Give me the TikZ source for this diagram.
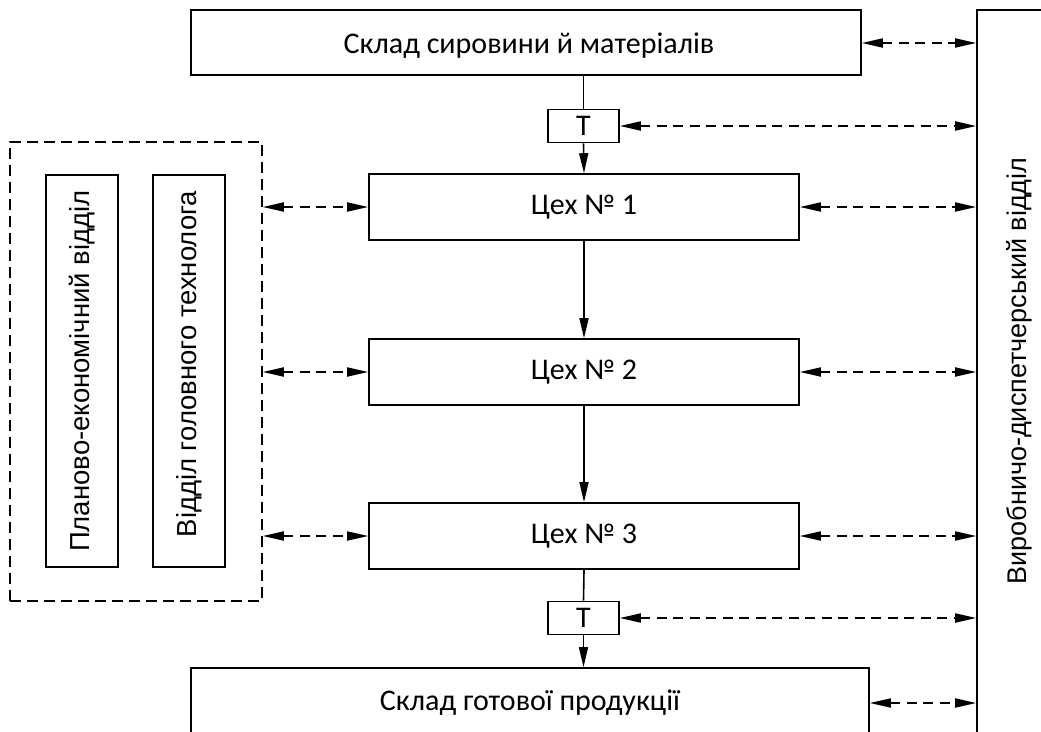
\documentclass[tikz,border=0pt]{standalone}
\usepackage{fontspec}
\setmainfont{Carlito}
\newfontfamily\arialf{Liberation Sans}
\usetikzlibrary{arrows.meta}
\begin{document}
\begin{tikzpicture}[x=1pt,y=-1pt,
  box/.style={draw,line width=1.6pt,inner sep=0pt,font=\fontsize{30}{34}\selectfont},
  vbox/.style={draw,line width=1.6pt,inner sep=0pt},
  vtext/.style={rotate=90,font=\arialf\fontsize{27.5}{30}\selectfont},
  flow/.style={line width=1.6pt,-{Triangle[length=20pt,width=9pt]}},
  plain/.style={line width=1.6pt},
  link/.style={line width=1.8pt,dash pattern=on 10pt off 6.5pt,{Triangle[length=21pt,width=9pt]}-{Triangle[length=21pt,width=9pt]}},
  group/.style={draw,line width=1.5pt,dash pattern=on 11pt off 6pt}]
\useasboundingbox (0,0) rectangle (1041,731);
\fill[white] (0,0) rectangle (1041,731);
% boxes
\node[box,minimum width=670pt,minimum height=65pt] (top) at (526,42.5) {};
\node[font=\fontsize{30}{34}\selectfont] (toptext) at (529,46) {Склад сировини й матеріалів};
\node[box,minimum width=71pt,minimum height=33pt] (t1) at (583.5,126) {Т};
\node[box,minimum width=430pt,minimum height=66pt] (c1) at (584,207) {Цех № 1};
\node[box,minimum width=430pt,minimum height=66pt] (c2) at (584,372) {Цех № 2};
\node[box,minimum width=430pt,minimum height=66pt] (c3) at (584,536) {Цех № 3};
\node[box,minimum width=71pt,minimum height=33pt] (t2) at (583.5,618) {Т};
\node[box,minimum width=678pt,minimum height=120pt] (bot) at (530,728) {};
\node[font=\fontsize{30}{34}\selectfont] (bottext) at (530,703) {Склад готової продукції};
% dispatch
\node[vbox,minimum width=120pt,minimum height=780pt] (disp) at (1037,400) {};
\node[vtext,font=\arialf\fontsize{27}{30}\selectfont] (disptext) at (1019,371) {Виробничо-диспетчерський відділ};
% left group
\node[group,minimum width=252pt,minimum height=459pt,inner sep=0pt] (grp) at (136,371.5) {};
\node[vbox,minimum width=72pt,minimum height=392pt] (plan) at (82,371) {};
\node[vtext] (plantext) at (82,371) {Планово-економічний відділ};
\node[vbox,minimum width=72pt,minimum height=392pt] (tech) at (189,371) {};
\node[vtext] (techtext) at (189,364) {Відділ головного технолога};
% flow
\draw[plain] (top.south -| t1.north) -- (t1.north);
\draw[flow] (t1.south) -- (c1.north);
\draw[flow] (c1.south) -- (c2.north);
\draw[flow] (c2.south) -- (c3.north);
\draw[plain] (c3.south) -- (t2.north);
\draw[flow] (t2.south) -- (bot.north -| t2.south);
% links to dispatch
\draw[link] (top.east |- 0,43) -- (disp.west |- 0,43);
\draw[link] (t1.east) -- (disp.west |- t1.east);
\draw[link] (c1.east) -- (disp.west |- c1.east);
\draw[link] (c2.east) -- (disp.west |- c2.east);
\draw[link] (c3.east) -- (disp.west |- c3.east);
\draw[link] (t2.east) -- (disp.west |- t2.east);
\draw[link] (bot.east |- bottext) -- (disp.west |- bottext);
% links to group
\draw[link] (grp.east |- c1.west) -- (c1.west);
\draw[link] (grp.east |- c2.west) -- (c2.west);
\draw[link] (grp.east |- c3.west) -- (c3.west);
\end{tikzpicture}
\end{document}
